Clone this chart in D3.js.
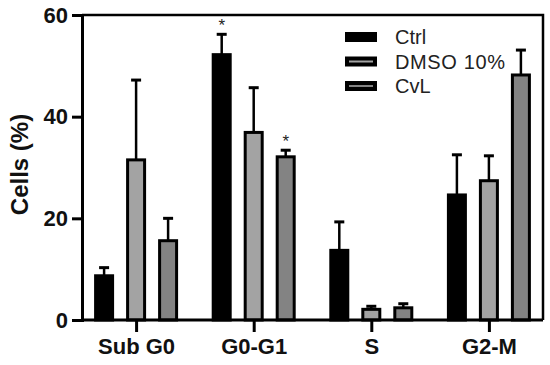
<!DOCTYPE html>
<html>
<head>
<meta charset="utf-8">
<script src="https://cdn.jsdelivr.net/npm/d3@7"></script>
<style>
  body { margin: 0; background: #fff; }
  svg text { font-family: Arial, "Liberation Sans", sans-serif; }
</style>
</head>
<body>
<svg id="chart" width="550" height="365"></svg>
<script>
// data
const phases = ["Sub G0", "G0-G1", "S", "G2-M"];
const series = ["Ctrl", "DMSO 10%", "CvL"];
const ctrlMean = [8.7, 52.2, 13.7, 24.6];
const ctrlErr = [1.6, 4.0, 5.6, 7.9];
const dmsoMean = [31.5, 36.9, 2.1, 27.4];
const dmsoErr = [15.7, 8.8, 0.6, 4.9];
const cvlMean = [15.6, 32.1, 2.4, 48.2];
const cvlErr = [4.4, 1.3, 0.8, 4.9];
const yTicks = [0, 20, 40, 60];
const stars = [{ phase: "G0-G1", s: "Ctrl" }, { phase: "G0-G1", s: "CvL" }];

const fills = { "Ctrl": "#000", "DMSO 10%": "#a3a3a3", "CvL": "#838383" };

const means = { "Ctrl": ctrlMean, "DMSO 10%": dmsoMean, "CvL": cvlMean };
const errs = { "Ctrl": ctrlErr, "DMSO 10%": dmsoErr, "CvL": cvlErr };

const rows = [];
phases.forEach((p, i) => {
    series.forEach(s => rows.push({ phase: p, s: s, v: means[s][i], e: errs[s][i] }));
});

const margin = { top: 15, right: 7, bottom: 45, left: 82 };
const width = 550, height = 365;

const svg = d3.select("#chart");

const x = d3.scalePoint()
    .domain(phases)
    .range([margin.left, width - margin.right])
    .padding(0.46);

const xs = d3.scalePoint().domain(series).range([-32, 32]);

const y = d3.scaleLinear()
    .domain([0, 60])
    .range([height - margin.bottom, margin.top]);

const barW = 17;

// frame top + right
svg.append("path")
    .attr("d", `M${margin.left},${y(60)}H${width - margin.right}V${y(0)}`)
    .attr("fill", "none")
    .attr("stroke", "#000")
    .attr("stroke-width", 2.5);

// error bars (upper only)
const eb = svg.append("g").selectAll("g")
    .data(rows)
    .join("g")
    .attr("transform", d => `translate(${x(d.phase) + xs(d.s)},0)`);

eb.append("line")
    .attr("y1", d => y(d.v))
    .attr("y2", d => y(d.v + d.e))
    .attr("stroke", "#000")
    .attr("stroke-width", 2.5);

eb.append("line")
    .attr("x1", -5).attr("x2", 5)
    .attr("y1", d => y(d.v + d.e))
    .attr("y2", d => y(d.v + d.e))
    .attr("stroke", "#000")
    .attr("stroke-width", 3);

// bars
svg.append("g").selectAll("rect")
    .data(rows)
    .join("rect")
    .attr("x", d => x(d.phase) + xs(d.s) - barW / 2)
    .attr("y", d => y(d.v))
    .attr("width", barW)
    .attr("height", d => y(0) - y(d.v))
    .attr("fill", d => fills[d.s])
    .attr("stroke", "#000")
    .attr("stroke-width", 3);

// significance stars
svg.append("g").selectAll("text")
    .data(stars)
    .join("text")
    .attr("x", d => x(d.phase) + xs(d.s))
    .attr("y", d => {
        const r = rows.find(r => r.phase === d.phase && r.s === d.s);
        return y(r.v + r.e) - 3;
    })
    .attr("text-anchor", "middle")
    .attr("font-size", 17)
    .attr("fill", "#222")
    .text("*");

// y axis
const yAxis = svg.append("g")
    .attr("transform", `translate(${margin.left},0)`)
    .call(d3.axisLeft(y).tickValues(yTicks).tickSize(10).tickPadding(4));
yAxis.select(".domain").attr("stroke-width", 3);
yAxis.selectAll(".tick line").attr("stroke-width", 3);
yAxis.selectAll(".tick text")
    .attr("font-size", 22)
    .attr("font-weight", "bold")
    .attr("fill", "#111")
    .attr("font-family", "Arial, 'Liberation Sans', sans-serif");

// x axis
const xAxis = svg.append("g")
    .attr("transform", `translate(0,${y(0)})`)
    .call(d3.axisBottom(x).tickSize(12).tickPadding(6).tickSizeOuter(0));
xAxis.select(".domain")
    .attr("d", `M${margin.left},0H${width - margin.right}`)
    .attr("stroke-width", 3);
xAxis.selectAll(".tick line").attr("stroke-width", 3);
xAxis.selectAll(".tick text")
    .attr("font-size", 22)
    .attr("font-weight", "bold")
    .attr("fill", "#111")
    .attr("font-family", "Arial, 'Liberation Sans', sans-serif");

// y title
svg.append("text")
    .attr("transform", `translate(28,${(y(0) + y(60)) / 2 - 3}) rotate(-90)`)
    .attr("text-anchor", "middle")
    .attr("font-size", 24)
    .attr("font-weight", "bold")
    .attr("fill", "#111")
    .text("Cells (%)");

// legend
const legend = svg.append("g").selectAll("g")
    .data(series)
    .join("g")
    .attr("transform", (d, i) => `translate(345,${37 + i * 24.5})`);

legend.append("rect")
    .attr("x", 2).attr("y", -3)
    .attr("width", 28).attr("height", 6)
    .attr("fill", d => fills[d])
    .attr("stroke", "#000")
    .attr("stroke-width", 4);

legend.append("text")
    .attr("x", 50)
    .attr("y", 7)
    .attr("font-size", 20)
    .attr("fill", "#222")
    .attr("textLength", d => d === "DMSO 10%" ? 110 : null)
    .text(d => d);
</script>
</body>
</html>
